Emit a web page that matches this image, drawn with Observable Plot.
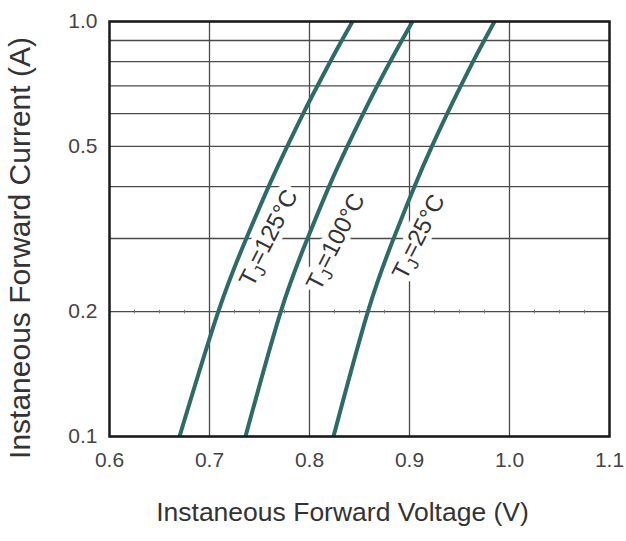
<!DOCTYPE html>
<html>
<head>
<meta charset="utf-8">
<script src="https://cdn.jsdelivr.net/npm/d3@7"></script>
<script src="https://cdn.jsdelivr.net/npm/@observablehq/plot@0.6"></script>
<style>
  html, body { margin: 0; padding: 0; background: #fff; }
  #chart svg { display: block; }
</style>
</head>
<body>
<div id="chart"></div>
<script>
// Data
const currentLevels = [0.1, 0.2, 0.3, 0.4, 0.5, 0.6, 0.7, 0.8, 0.9, 1.0];
const voltage125 = [0.670, 0.7088, 0.7368, 0.7591, 0.7777, 0.7937, 0.8080, 0.8207, 0.8323, 0.843];
const voltage100 = [0.736, 0.7713, 0.7980, 0.8195, 0.8378, 0.8537, 0.8678, 0.8806, 0.8923, 0.903];
const voltage25  = [0.824, 0.8584, 0.8841, 0.9049, 0.9224, 0.9377, 0.9513, 0.9635, 0.9747, 0.985];
const seriesNames = ["125", "100", "25"];
const labelTemps = ["125°C", "100°C", "25°C"];
const labelVoltage = [0.760, 0.827, 0.910];
const labelCurrent = [0.300, 0.294, 0.302];
const xTicks = [0.6, 0.7, 0.8, 0.9, 1.0, 1.1];
const xGridTicks = [0.7, 0.8, 0.9, 1.0];
const xMinorTicks = [0.625, 0.65, 0.675, 0.725, 0.75, 0.775, 0.825, 0.85, 0.875, 0.925, 0.95, 0.975, 1.025, 1.05, 1.075];
const yTicks = [0.1, 0.2, 0.5, 1.0];
const yGridTicks = [0.1, 0.2, 0.3, 0.4, 0.5, 0.6, 0.7, 0.8, 0.9, 1.0];
const xTitle = "Instaneous Forward Voltage (V)";
const yTitle = "Instaneous Forward Current (A)";

const seriesVoltages = [voltage125, voltage100, voltage25];
const curves = seriesNames.flatMap((name, i) =>
  currentLevels.map((c, j) => ({series: name, current: c, voltage: seriesVoltages[i][j]})));
const labels = labelTemps.map((t, i) => ({text: "TJ=" + t, voltage: labelVoltage[i], current: labelCurrent[i]}));

const teal = "#2f6b66";
const labelOpts = {x: "voltage", y: "current", text: "text", rotate: -63, fontSize: 24};
const plot = Plot.plot({
  width: 626,
  height: 541,
  marginLeft: 109,
  marginRight: 17,
  marginTop: 21,
  marginBottom: 105,
  style: {fontFamily: "'Liberation Sans', Arial, sans-serif", color: "#444", background: "#fff"},
  x: {domain: [0.6, 1.1]},
  y: {type: "log", domain: [0.1, 1.0]},
  marks: [
    Plot.gridY(yGridTicks, {stroke: "#4a4a4a", strokeOpacity: 1, strokeWidth: 1.3}),
    Plot.gridX(xGridTicks, {stroke: "#4a4a4a", strokeOpacity: 1, strokeWidth: 1.3}),
    Plot.link(xMinorTicks, {x1: d => d, x2: d => d, y1: 0.198, y2: 0.202, stroke: "#777", strokeWidth: 1}),
    Plot.text(labels, {...labelOpts, fill: "#fff", stroke: "#fff", strokeWidth: 11, className: "tj-label"}),
    Plot.text(labels, {...labelOpts, fill: "#333", className: "tj-label"}),
    Plot.line(curves, {x: "voltage", y: "current", z: "series", stroke: teal, strokeWidth: 4,
      curve: "natural", clip: true}),
    Plot.frame({stroke: "#1a1a1a", strokeWidth: 2.5}),
    Plot.axisX(xTicks, {tickFormat: d3.format(".1f"), tickSize: 0, tickPadding: 16, fontSize: 21, label: null}),
    Plot.axisY(yTicks, {tickFormat: d3.format(".1f"), tickSize: 0, tickPadding: 12, fontSize: 21, label: null}),
    Plot.text([xTitle], {frameAnchor: "bottom", dx: -17, dy: 84, fontSize: 26.5, fill: "#333"}),
    Plot.text([yTitle], {frameAnchor: "left", textAnchor: "middle", dx: -89, dy: 19, rotate: -90, fontSize: 30, fill: "#333"})
  ]
});
document.getElementById("chart").appendChild(plot);

// Subscript "J" in the temperature labels
d3.select(plot).selectAll(".tj-label text").each(function() {
  const el = d3.select(this);
  const full = el.text();
  const rest = full.slice(2);
  el.text(null);
  el.append("tspan").text("T");
  el.append("tspan").attr("font-size", "0.7em").attr("dy", "0.25em").text("J");
  el.append("tspan").attr("dy", "-0.25em").text(rest);
});
</script>
</body>
</html>
